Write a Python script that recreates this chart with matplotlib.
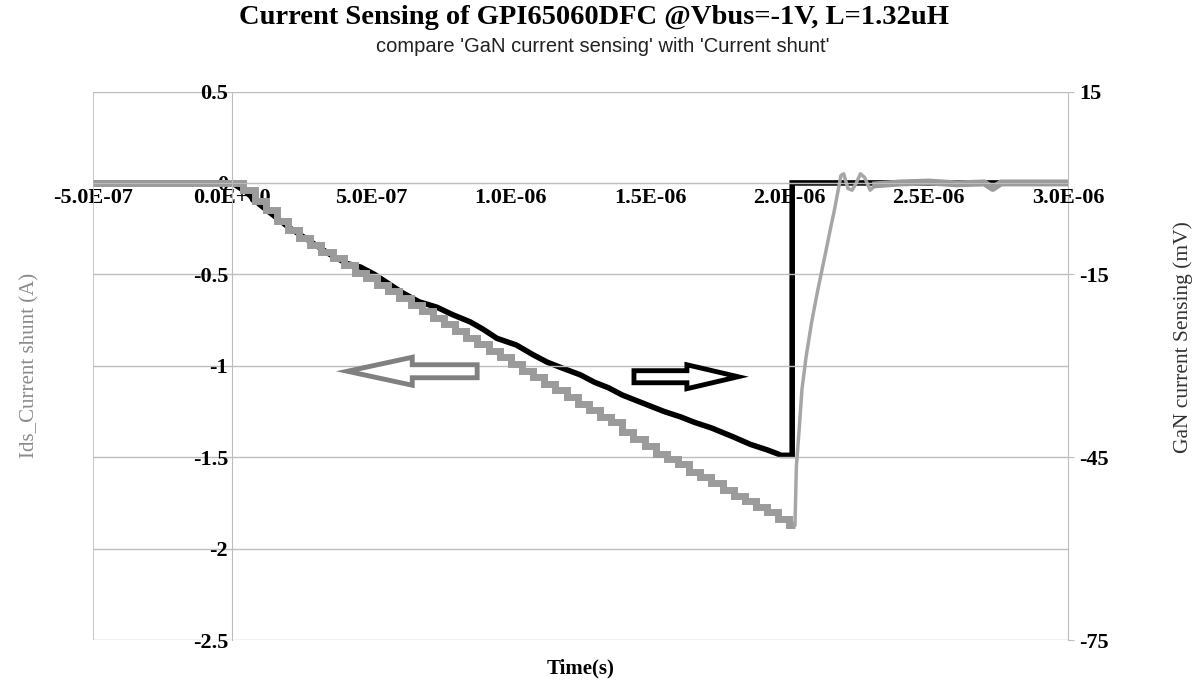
import matplotlib
matplotlib.use("Agg")
import matplotlib.pyplot as plt
from matplotlib.patches import FancyArrow
from matplotlib.ticker import FuncFormatter

plt.rcParams["axes.unicode_minus"] = False

# --- data -------------------------------------------------------------
# Current shunt (A), left axis. Sampled trace (step-like) up to turn-off.
shunt_t_fall = [-0.50, -0.30, -0.10, 0.00, 0.04, 0.08, 0.12, 0.16, 0.20, 0.24,
                0.28, 0.32, 0.36, 0.40, 0.44, 0.48, 0.52, 0.56, 0.60, 0.64,
                0.68, 0.72, 0.76, 0.80, 0.84, 0.88, 0.92, 0.96, 1.00, 1.04,
                1.08, 1.12, 1.16, 1.20, 1.24, 1.28, 1.32, 1.36, 1.40, 1.44,
                1.48, 1.52, 1.56, 1.60, 1.64, 1.68, 1.72, 1.76, 1.80, 1.84,
                1.88, 1.92, 1.96, 2.00, 2.02]
shunt_a_fall = [0.00, 0.00, 0.00, 0.00, -0.04, -0.10, -0.15, -0.21, -0.26, -0.30,
                -0.34, -0.38, -0.41, -0.45, -0.49, -0.52, -0.56, -0.59, -0.63, -0.67,
                -0.70, -0.74, -0.77, -0.81, -0.85, -0.88, -0.92, -0.95, -0.99, -1.03,
                -1.06, -1.10, -1.13, -1.17, -1.21, -1.24, -1.28, -1.31, -1.36, -1.40,
                -1.44, -1.48, -1.51, -1.54, -1.58, -1.61, -1.64, -1.68, -1.71, -1.74,
                -1.77, -1.80, -1.84, -1.87, -1.87]
# recovery after turn-off
shunt_t_rise = [2.02, 2.025, 2.035, 2.045, 2.06, 2.08, 2.10, 2.117, 2.13, 2.146,
                2.16, 2.17, 2.185, 2.195, 2.21, 2.225, 2.24, 2.255, 2.27, 2.29, 2.31]
shunt_a_rise = [-1.87, -1.55, -1.35, -1.13, -0.95, -0.76, -0.60, -0.475, -0.38, -0.26,
                -0.16, -0.08, 0.04, 0.05, -0.03, -0.04, 0.00, 0.05, 0.03, -0.04, -0.01]
# settled tail
shunt_t_tail = [2.31, 2.40, 2.50, 2.60, 2.70, 2.73, 2.76, 2.90, 3.00]
shunt_a_tail = [-0.01, 0.00, 0.005, -0.005, 0.00, -0.03, 0.00, 0.00, 0.00]

# GaN current sensing (mV), right axis
gan_t = [-0.50, 0.00, 0.05, 0.10, 0.15, 0.20, 0.25, 0.30, 0.35, 0.41,
         0.46, 0.51, 0.56, 0.61, 0.67, 0.735, 0.79, 0.854, 0.90, 0.95,
         1.02, 1.08, 1.13, 1.18, 1.25, 1.30, 1.35, 1.40, 1.45, 1.50,
         1.55, 1.61, 1.66, 1.72, 1.80, 1.86, 1.92, 1.955, 1.97, 2.01,
         2.01, 3.00]
gan_mv = [0.0, 0.0, -1.5, -3.6, -5.4, -7.2, -8.7, -10.2, -11.7, -13.2,
          -13.8, -15.0, -16.5, -18.0, -19.5, -20.4, -21.6, -22.8, -24.0, -25.5,
          -26.6, -28.2, -29.4, -30.3, -31.5, -32.7, -33.6, -34.8, -35.7, -36.6,
          -37.5, -38.4, -39.3, -40.2, -41.7, -42.9, -43.8, -44.4, -44.7, -44.7,
          0.0, 0.0]

x_ticks = [-5e-7, 0, 5e-7, 1e-6, 1.5e-6, 2e-6, 2.5e-6, 3e-6]
left_ticks = [0.5, 0, -0.5, -1, -1.5, -2, -2.5]
left_labels = ["0.5", "0", "-0.5", "-1", "-1.5", "-2", "-2.5"]
right_ticks = [15, -15, -45, -75]

US = 1e-6
SERIF = "Liberation Serif"
GRAY = "#9b9b9b"
GRID = "#bdbdbd"

fig = plt.figure(figsize=(11.99, 6.81), dpi=100)
ax = fig.add_axes([0.0776, 0.0602, 0.8131, 0.8054])
ax2 = ax.twinx()

# shunt trace (left axis) drawn above the GaN trace
ax.plot([t * US for t in shunt_t_fall], shunt_a_fall, color=GRAY, lw=5,
        drawstyle="steps-post", solid_capstyle="butt", solid_joinstyle="miter")
ax.plot([t * US for t in shunt_t_rise], shunt_a_rise, color="#a6a6a6", lw=2.5)
ax.plot([t * US for t in shunt_t_tail], shunt_a_tail, color=GRAY, lw=5)

ax2.plot([t * US for t in gan_t], gan_mv, color="black", lw=4,
         solid_joinstyle="miter")

ax.set_zorder(ax2.get_zorder() + 1)
ax.patch.set_visible(False)

ax.set_xlim(-5e-7, 3e-6)
ax.set_ylim(-2.5, 0.5)
ax2.set_ylim(-75, 15)

# Excel-style axes crossing at zero
ax.spines["left"].set_position(("data", 0))
ax.spines["bottom"].set_position(("data", 0))
for s in ["top", "right"]:
    ax.spines[s].set_visible(False)
ax.spines["left"].set_color(GRID)
ax.spines["bottom"].set_color(GRID)
for s in ["top", "left", "bottom"]:
    ax2.spines[s].set_visible(False)
ax2.spines["right"].set_color(GRID)
ax.axvline(-5e-7, color=GRID, lw=1.2)

ax.set_xticks(x_ticks)
ax.xaxis.set_major_formatter(FuncFormatter(lambda v, p: f"{v:.1E}"))
ax.set_yticks(left_ticks)
ax.set_yticklabels(left_labels)
ax2.set_yticks(right_ticks)
ax.grid(axis="y", color=GRID, lw=1)

ax.tick_params(axis="x", length=0, pad=4, labelsize=16)
ax.tick_params(axis="y", length=0, pad=3, labelsize=16)
ax2.tick_params(axis="y", length=4, color=GRID, pad=4, labelsize=16)
for lab in ax.get_xticklabels() + ax.get_yticklabels() + ax2.get_yticklabels():
    lab.set_fontfamily(SERIF)
    lab.set_fontweight("bold")

ax.set_ylabel("Ids_Current shunt (A)", fontfamily=SERIF, fontsize=15,
              color="#8a8a8a", va="center")
ax.yaxis.set_label_coords(-0.065, 0.5)
ax2.set_ylabel("GaN current Sensing (mV)", fontfamily=SERIF, fontsize=15.5,
               color="#333333", rotation=90, va="center")
ax2.yaxis.set_label_coords(1.118, 0.552)
ax.set_xlabel("Time(s)", fontfamily=SERIF, fontsize=15, fontweight="bold",
              va="center")
ax.xaxis.set_label_coords(0.5, -0.052)

# hollow arrows pointing to each axis
ax.add_patch(FancyArrow(0.879 * US, -1.03, -0.466 * US, 0, width=0.071,
                        head_width=0.153, head_length=0.233 * US,
                        length_includes_head=True, facecolor="white",
                        edgecolor="#808080", lw=3.5, zorder=5))
ax.add_patch(FancyArrow(1.442 * US, -1.06, 0.374 * US, 0, width=0.066,
                        head_width=0.131, head_length=0.184 * US,
                        length_includes_head=True, facecolor="white",
                        edgecolor="black", lw=3.5, zorder=5))

fig.text(594 / 1199, 1 - 18 / 681,
         "Current Sensing of GPI65060DFC @Vbus=-1V, L=1.32uH",
         ha="center", va="center", fontfamily=SERIF, fontweight="bold",
         fontsize=20.5)
fig.text(603 / 1199, 1 - 47 / 681,
         "compare 'GaN current sensing' with 'Current shunt'",
         ha="center", va="center", fontfamily="Liberation Sans", fontsize=14.5,
         color="#222222")

fig.savefig("out.png", dpi=100)
